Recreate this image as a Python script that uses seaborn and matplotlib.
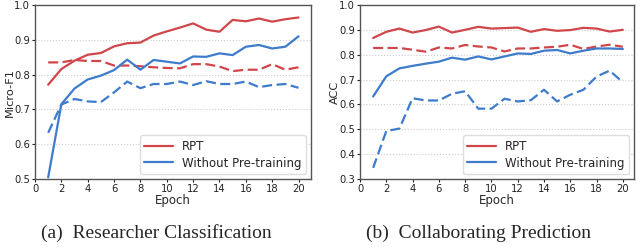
import numpy as np
import pandas as pd
import seaborn as sns
import matplotlib
matplotlib.use("Agg")
import matplotlib.pyplot as plt
from matplotlib.lines import Line2D

epochs = list(range(1, 21))

# (a) Researcher Classification - Micro-F1
a_rpt = [0.771, 0.816, 0.840, 0.857, 0.862, 0.881, 0.890, 0.892, 0.912, 0.924,
         0.935, 0.947, 0.929, 0.923, 0.957, 0.953, 0.961, 0.952, 0.959, 0.964]
a_rpt_dash = [0.835, 0.835, 0.842, 0.839, 0.839, 0.826, 0.826, 0.824, 0.821, 0.819,
              0.818, 0.830, 0.830, 0.823, 0.810, 0.814, 0.814, 0.830, 0.814, 0.821]
a_wo = [0.505, 0.715, 0.760, 0.786, 0.797, 0.813, 0.843, 0.814, 0.842, 0.837,
        0.832, 0.852, 0.851, 0.861, 0.856, 0.880, 0.885, 0.875, 0.880, 0.910]
a_wo_dash = [0.633, 0.714, 0.730, 0.723, 0.721, 0.749, 0.780, 0.761, 0.773, 0.773,
             0.780, 0.770, 0.781, 0.773, 0.773, 0.780, 0.764, 0.770, 0.773, 0.762]

# (b) Collaborating Prediction - ACC
b_rpt = [0.867, 0.892, 0.905, 0.889, 0.899, 0.913, 0.889, 0.900, 0.912, 0.905,
         0.907, 0.909, 0.892, 0.903, 0.896, 0.899, 0.908, 0.905, 0.893, 0.900]
b_rpt_dash = [0.827, 0.827, 0.827, 0.820, 0.812, 0.829, 0.825, 0.839, 0.833, 0.829,
              0.813, 0.825, 0.825, 0.829, 0.832, 0.840, 0.823, 0.833, 0.840, 0.832]
b_wo = [0.632, 0.713, 0.745, 0.755, 0.764, 0.772, 0.788, 0.780, 0.793, 0.781,
        0.793, 0.805, 0.803, 0.816, 0.819, 0.805, 0.816, 0.825, 0.825, 0.823]
b_wo_dash = [0.345, 0.493, 0.503, 0.625, 0.616, 0.616, 0.643, 0.653, 0.583, 0.583,
             0.623, 0.612, 0.617, 0.659, 0.612, 0.639, 0.659, 0.712, 0.736, 0.689]

labels = ["RPT", "Without Pre-training"]
captions = ["(a)  Researcher Classification", "(b)  Collaborating Prediction"]
ylabels = ["Micro-F1", "ACC"]
xticks = list(range(0, 21, 2))

RED = "#d0464a"
BLUE = "#3d7bcb"

sns.set_style("whitegrid")
plt.rcParams["font.family"] = ["DejaVu Sans"]

fig = plt.figure(figsize=(6.4, 2.47), dpi=100)
ax1 = fig.add_axes([0.0547, 0.275, 0.4313, 0.705])
ax2 = fig.add_axes([0.5625, 0.275, 0.4281, 0.705])

panels = [
    (ax1, a_rpt, a_rpt_dash, a_wo, a_wo_dash, (0.5, 1.0), np.arange(0.5, 1.01, 0.1), 20.95),
    (ax2, b_rpt, b_rpt_dash, b_wo, b_wo_dash, (0.3, 1.0), np.arange(0.3, 1.01, 0.1), 20.85),
]

lw = 1.6
for i, (ax, rpt, rptd, wo, wod, ylim, yt, xmax) in enumerate(panels):
    sns.lineplot(x=epochs, y=rpt, ax=ax, color=RED, lw=lw)
    sns.lineplot(x=epochs, y=rptd, ax=ax, color=RED, lw=lw, linestyle=(0, (4.5, 2)))
    sns.lineplot(x=epochs, y=wo, ax=ax, color=BLUE, lw=lw)
    sns.lineplot(x=epochs, y=wod, ax=ax, color=BLUE, lw=lw, linestyle=(0, (4.5, 2)))
    ax.set_xlim(0, xmax)
    ax.set_ylim(*ylim)
    ax.set_xticks(xticks)
    ax.set_yticks(yt)
    ax.set_yticklabels([f"{v:.1f}" for v in yt])
    ax.tick_params(axis="both", labelsize=7.2, length=2.5, width=0.8, pad=1,
                   colors="#222222", bottom=True, left=True)
    ax.set_xlabel("Epoch", fontsize=8.5, labelpad=0)
    ax.set_ylabel(ylabels[i], fontsize=8.2)
    ax.yaxis.set_label_coords(-0.074, 0.5)
    ax.grid(axis="x", visible=False)
    ax.grid(axis="y", color="#cccccc", linestyle=":", linewidth=0.8)
    for s in ax.spines.values():
        s.set_color("#555555")
        s.set_linewidth(1.0)
    handles = [Line2D([0], [0], color=RED, lw=lw), Line2D([0], [0], color=BLUE, lw=lw)]
    ax.legend(handles, labels, loc="lower right", fontsize=8.5, handlelength=2.4,
              borderaxespad=0.4, frameon=True, framealpha=1.0, edgecolor="#dddddd",
              labelspacing=0.3, borderpad=0.4, fancybox=True)

fig.text(0.245, 0.035, captions[0], fontsize=14, family="Liberation Serif", ha="center")
fig.text(0.748, 0.035, captions[1], fontsize=14, family="Liberation Serif", ha="center")

fig.savefig("out.png", dpi=100)
